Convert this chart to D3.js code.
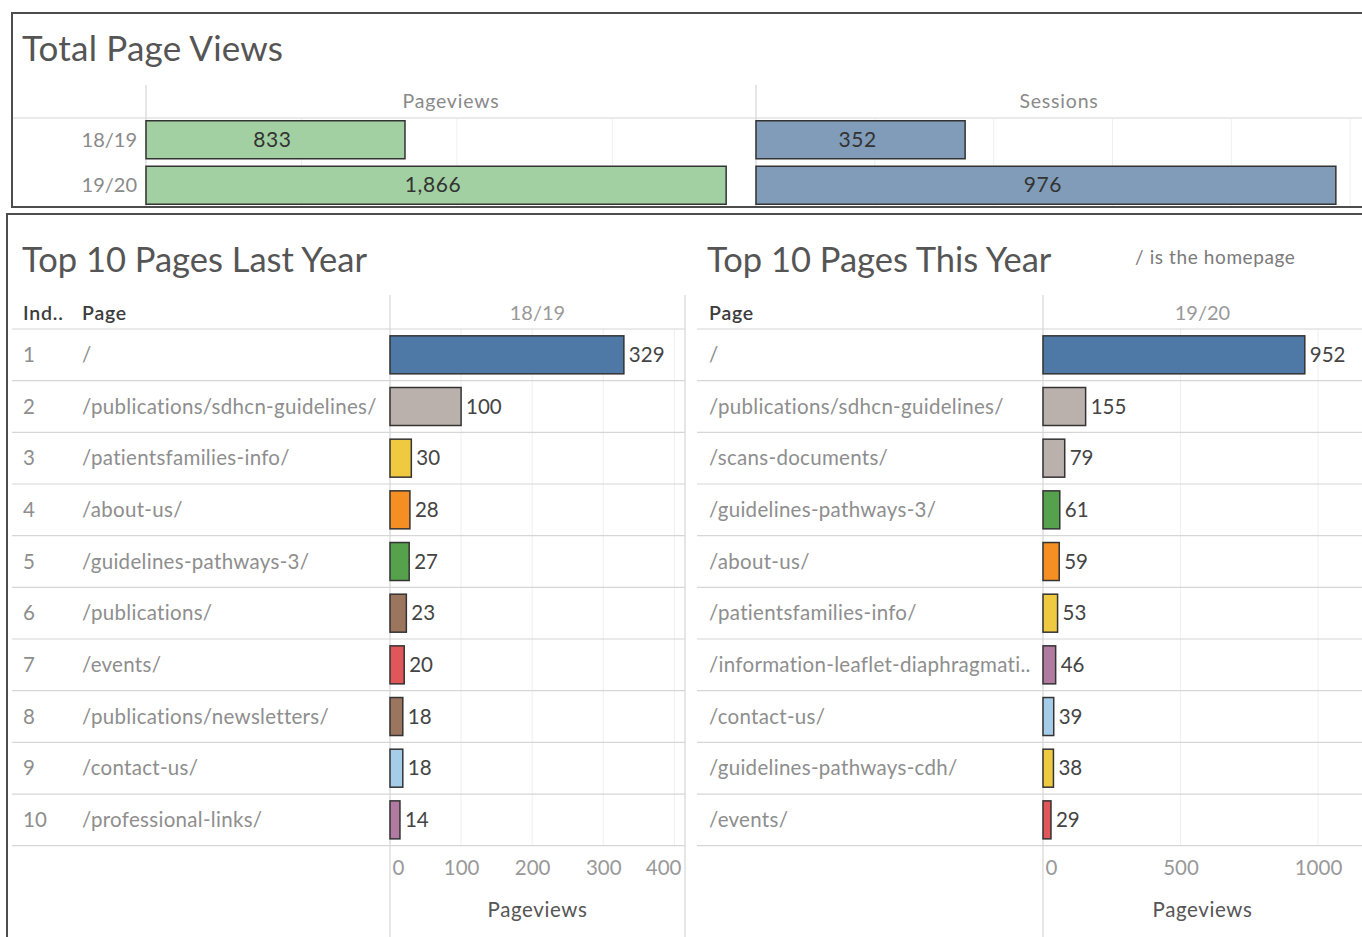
<!DOCTYPE html>
<html>
<head>
<meta charset="utf-8">
<script src="https://d3js.org/d3.v7.min.js"></script>
<style>
  body { margin: 0; background: #fff; }
  svg { font-family: Lato, 'Open Sans', sans-serif; }
  .grid { stroke: #efefef; stroke-width: 1; }
  .rule { stroke: #d6d6d6; stroke-width: 1.2; }
  .frame { fill: none; stroke: #4d4d4d; stroke-width: 2; }
  .bar { stroke: #333; stroke-width: 1.5; }
</style>
</head>
<body>
<script>
var years = ['18/19', '19/20'];
var totalPageviews = [833, 1866];
var totalSessions = [352, 976];

var lastYearPages = ['/', '/publications/sdhcn-guidelines/', '/patientsfamilies-info/', '/about-us/',
  '/guidelines-pathways-3/', '/publications/', '/events/', '/publications/newsletters/',
  '/contact-us/', '/professional-links/'];
var lastYearViews = [329, 100, 30, 28, 27, 23, 20, 18, 18, 14];

var thisYearPages = ['/', '/publications/sdhcn-guidelines/', '/scans-documents/', '/guidelines-pathways-3/',
  '/about-us/', '/patientsfamilies-info/', '/information-leaflet-diaphragmati..', '/contact-us/',
  '/guidelines-pathways-cdh/', '/events/'];
var thisYearViews = [952, 155, 79, 61, 59, 53, 46, 39, 38, 29];

var lastYearTicks = [0, 100, 200, 300, 400];
var thisYearTicks = [0, 500, 1000];

// page -> colour (same page keeps its colour on both sheets)
var pageColour = d3.scaleOrdinal()
  .domain(['/', '/publications/sdhcn-guidelines/', '/scans-documents/', '/patientsfamilies-info/',
    '/guidelines-pathways-cdh/', '/about-us/', '/guidelines-pathways-3/', '/publications/',
    '/publications/newsletters/', '/events/', '/contact-us/', '/professional-links/',
    '/information-leaflet-diaphragmati..'])
  .range(['#4e79a7', '#bab0ac', '#bab0ac', '#efc940', '#efc940', '#f58f24', '#56a14c', '#9c755f',
    '#9c755f', '#e15759', '#a5cdea', '#b07aa1', '#b07aa1']);

var W = 1362, H = 937;
var svg = d3.select('body').append('svg').attr('width', W).attr('height', H);
svg.append('rect').attr('width', W).attr('height', H).attr('fill', '#fff');

// ================= Total Page Views =================
var topG = svg.append('g');
topG.append('text').attr('x', 22).attr('y', 61).attr('font-size', 35).attr('fill', '#555')
  .attr('letter-spacing', 0.2).text('Total Page Views');

var yTop = d3.scaleBand().domain(years).range([117, 208]);
var xPv = d3.scaleLinear().domain([0, 1962]).range([146, 756]);
var xSe = d3.scaleLinear().domain([0, 1020]).range([756, 1362]);

// gridlines
topG.selectAll('.gpv').data([500, 1000, 1500]).enter().append('line').attr('class', 'grid')
  .attr('x1', function(d) { return xPv(d); }).attr('x2', function(d) { return xPv(d); })
  .attr('y1', 119).attr('y2', 206);
topG.selectAll('.gse').data([200, 400, 600, 800, 1000]).enter().append('line').attr('class', 'grid')
  .attr('x1', function(d) { return xSe(d); }).attr('x2', function(d) { return xSe(d); })
  .attr('y1', 119).attr('y2', 206);

topG.append('line').attr('class', 'rule').attr('x1', 12).attr('x2', W).attr('y1', 118).attr('y2', 118);
topG.append('line').attr('class', 'rule').attr('x1', 146).attr('x2', 146).attr('y1', 85).attr('y2', 207);
topG.append('line').attr('class', 'rule').attr('x1', 756).attr('x2', 756).attr('y1', 85).attr('y2', 207);

topG.append('text').attr('x', (146 + 756) / 2).attr('y', 108).attr('text-anchor', 'middle')
  .attr('font-size', 19.5).attr('letter-spacing', 0.8).attr('fill', '#8a8a8a').text('Pageviews');
topG.append('text').attr('x', (756 + 1362) / 2).attr('y', 108).attr('text-anchor', 'middle')
  .attr('font-size', 19.5).attr('letter-spacing', 0.8).attr('fill', '#8a8a8a').text('Sessions');

topG.selectAll('.ylab').data(years).enter().append('text')
  .attr('x', 137).attr('y', function(d) { return yTop(d) + yTop.bandwidth() / 2 + 7; })
  .attr('text-anchor', 'end').attr('font-size', 20).attr('fill', '#8a8a8a')
  .text(function(d) { return d; });

var barH = 38;
function drawTotals(vals, x, fill) {
  topG.selectAll(null).data(vals).enter().append('rect').attr('class', 'bar')
    .attr('x', x(0)).attr('y', function(d, i) { return yTop(years[i]) + (yTop.bandwidth() - barH) / 2; })
    .attr('width', function(d) { return x(d) - x(0); }).attr('height', barH)
    .attr('fill', fill);
  topG.selectAll(null).data(vals).enter().append('text')
    .attr('x', function(d) { return (x(0) + x(d)) / 2 - 3; })
    .attr('y', function(d, i) { return yTop(years[i]) + yTop.bandwidth() / 2 + 7; })
    .attr('text-anchor', 'middle').attr('font-size', 21).attr('letter-spacing', 0.6).attr('fill', '#333')
    .text(function(d) { return d3.format(',')(d); });
}
drawTotals(totalPageviews, xPv, '#a2d0a2');
drawTotals(totalSessions, xSe, '#819cb8');

// frame
topG.append('path').attr('class', 'frame').attr('d', 'M' + W + ',13H12V207H' + W);

// ================= Top 10 tables =================
var rowTop = 329, rowBottom = 845.7;
var yRow = d3.scaleBand().domain(d3.range(10)).range([rowTop, rowBottom]);
var rowBar = 38;

function drawSheet(opt) {
  var g = svg.append('g');
  var x = d3.scaleLinear().domain(opt.domain).range([opt.paneL, opt.paneL + opt.pxWidth]);

  g.append('text').attr('x', opt.titleX).attr('y', 272).attr('font-size', 34.5).attr('fill', '#555')
    .text(opt.title);

  // gridlines
  g.selectAll(null).data(opt.ticks.slice(1)).enter().append('line').attr('class', 'grid')
    .attr('x1', function(d) { return x(d); }).attr('x2', function(d) { return x(d); })
    .attr('y1', rowTop).attr('y2', rowBottom);

  // row rules
  g.selectAll(null).data(d3.range(11)).enter().append('line').attr('class', 'rule')
    .attr('x1', opt.ruleL).attr('x2', opt.ruleR)
    .attr('y1', function(d) { return rowTop + d * yRow.step(); })
    .attr('y2', function(d) { return rowTop + d * yRow.step(); });

  // pane borders
  opt.vlines.forEach(function(vx) {
    g.append('line').attr('class', 'rule').attr('x1', vx).attr('x2', vx).attr('y1', 295).attr('y2', H);
  });

  // headers
  opt.headers.forEach(function(h) {
    g.append('text').attr('x', h[1]).attr('y', 320).attr('font-size', 19.5).attr('font-weight', 600)
      .attr('letter-spacing', 0.8).attr('fill', '#3c3c3c').text(h[0]);
  });
  g.append('text').attr('x', opt.paneL + (opt.paneR - opt.paneL) / 2).attr('y', 320)
    .attr('text-anchor', 'middle').attr('font-size', 20).attr('fill', '#999').text(opt.year);

  // row labels
  if (opt.showRank) {
    g.selectAll(null).data(opt.pages).enter().append('text')
      .attr('x', 23).attr('y', function(d, i) { return yRow(i) + yRow.bandwidth() / 2 + 7; })
      .attr('font-size', 20.5).attr('fill', '#8e8e8e').text(function(d, i) { return i + 1; });
  }
  g.selectAll(null).data(opt.pages).enter().append('text')
    .attr('x', opt.pageX).attr('y', function(d, i) { return yRow(i) + yRow.bandwidth() / 2 + 7; })
    .attr('font-size', 20.5).attr('letter-spacing', 0.3).attr('fill', '#8e8e8e').text(function(d) { return d; });

  // bars
  g.selectAll(null).data(opt.views).enter().append('rect').attr('class', 'bar')
    .attr('x', x(0)).attr('y', function(d, i) { return yRow(i) + (yRow.bandwidth() - rowBar) / 2; })
    .attr('width', function(d) { return x(d) - x(0); }).attr('height', rowBar)
    .attr('fill', function(d, i) { return pageColour(opt.pages[i]); });
  g.selectAll(null).data(opt.views).enter().append('text')
    .attr('x', function(d) { return x(d) + 5; })
    .attr('y', function(d, i) { return yRow(i) + yRow.bandwidth() / 2 + 7; })
    .attr('font-size', 20.5).attr('fill', '#444').text(function(d) { return d; });

  // axis
  var axis = g.append('g').attr('transform', 'translate(0,' + rowBottom + ')')
    .call(d3.axisBottom(x).tickValues(opt.ticks).tickSize(0).tickPadding(15).tickFormat(d3.format('d')));
  axis.select('.domain').remove();
  axis.selectAll('text').attr('font-family', 'Lato, "Open Sans", sans-serif').attr('font-size', 20.5)
    .attr('fill', '#999');
  axis.selectAll('.tick').filter(function(d) { return d === 0; }).select('text')
    .attr('text-anchor', 'start').attr('x', 2);
  axis.selectAll('.tick').filter(function(d) { return x(d) + 20 > opt.paneR; }).select('text')
    .attr('text-anchor', 'end').attr('x', opt.paneR - 4 - x(opt.ticks[opt.ticks.length - 1]));

  g.append('text').attr('x', opt.paneL + (opt.paneR - opt.paneL) / 2).attr('y', 917)
    .attr('text-anchor', 'middle').attr('font-size', 20.5).attr('letter-spacing', 0.6)
    .attr('fill', '#555').text('Pageviews');
}

drawSheet({
  title: 'Top 10 Pages Last Year', titleX: 22, year: '18/19',
  pages: lastYearPages, views: lastYearViews, ticks: lastYearTicks,
  domain: [0, 415], paneL: 390, paneR: 685, pxWidth: 295,
  ruleL: 12, ruleR: 685, vlines: [390, 685],
  headers: [['Ind..', 23], ['Page', 82]], pageX: 82, showRank: true
});

drawSheet({
  title: 'Top 10 Pages This Year', titleX: 707, year: '19/20',
  pages: thisYearPages, views: thisYearViews, ticks: thisYearTicks,
  domain: [0, 1160], paneL: 1043, paneR: 1362, pxWidth: 319,
  ruleL: 697, ruleR: W, vlines: [1043],
  headers: [['Page', 709]], pageX: 709, showRank: false
});

svg.append('text').attr('x', 1135).attr('y', 264).attr('font-size', 19).attr('letter-spacing', 0.6)
  .attr('fill', '#7a7a7a').text('/ is the homepage');

// bottom frame
svg.append('path').attr('class', 'frame').attr('d', 'M' + W + ',214H7V' + H);
</script>
</body>
</html>
